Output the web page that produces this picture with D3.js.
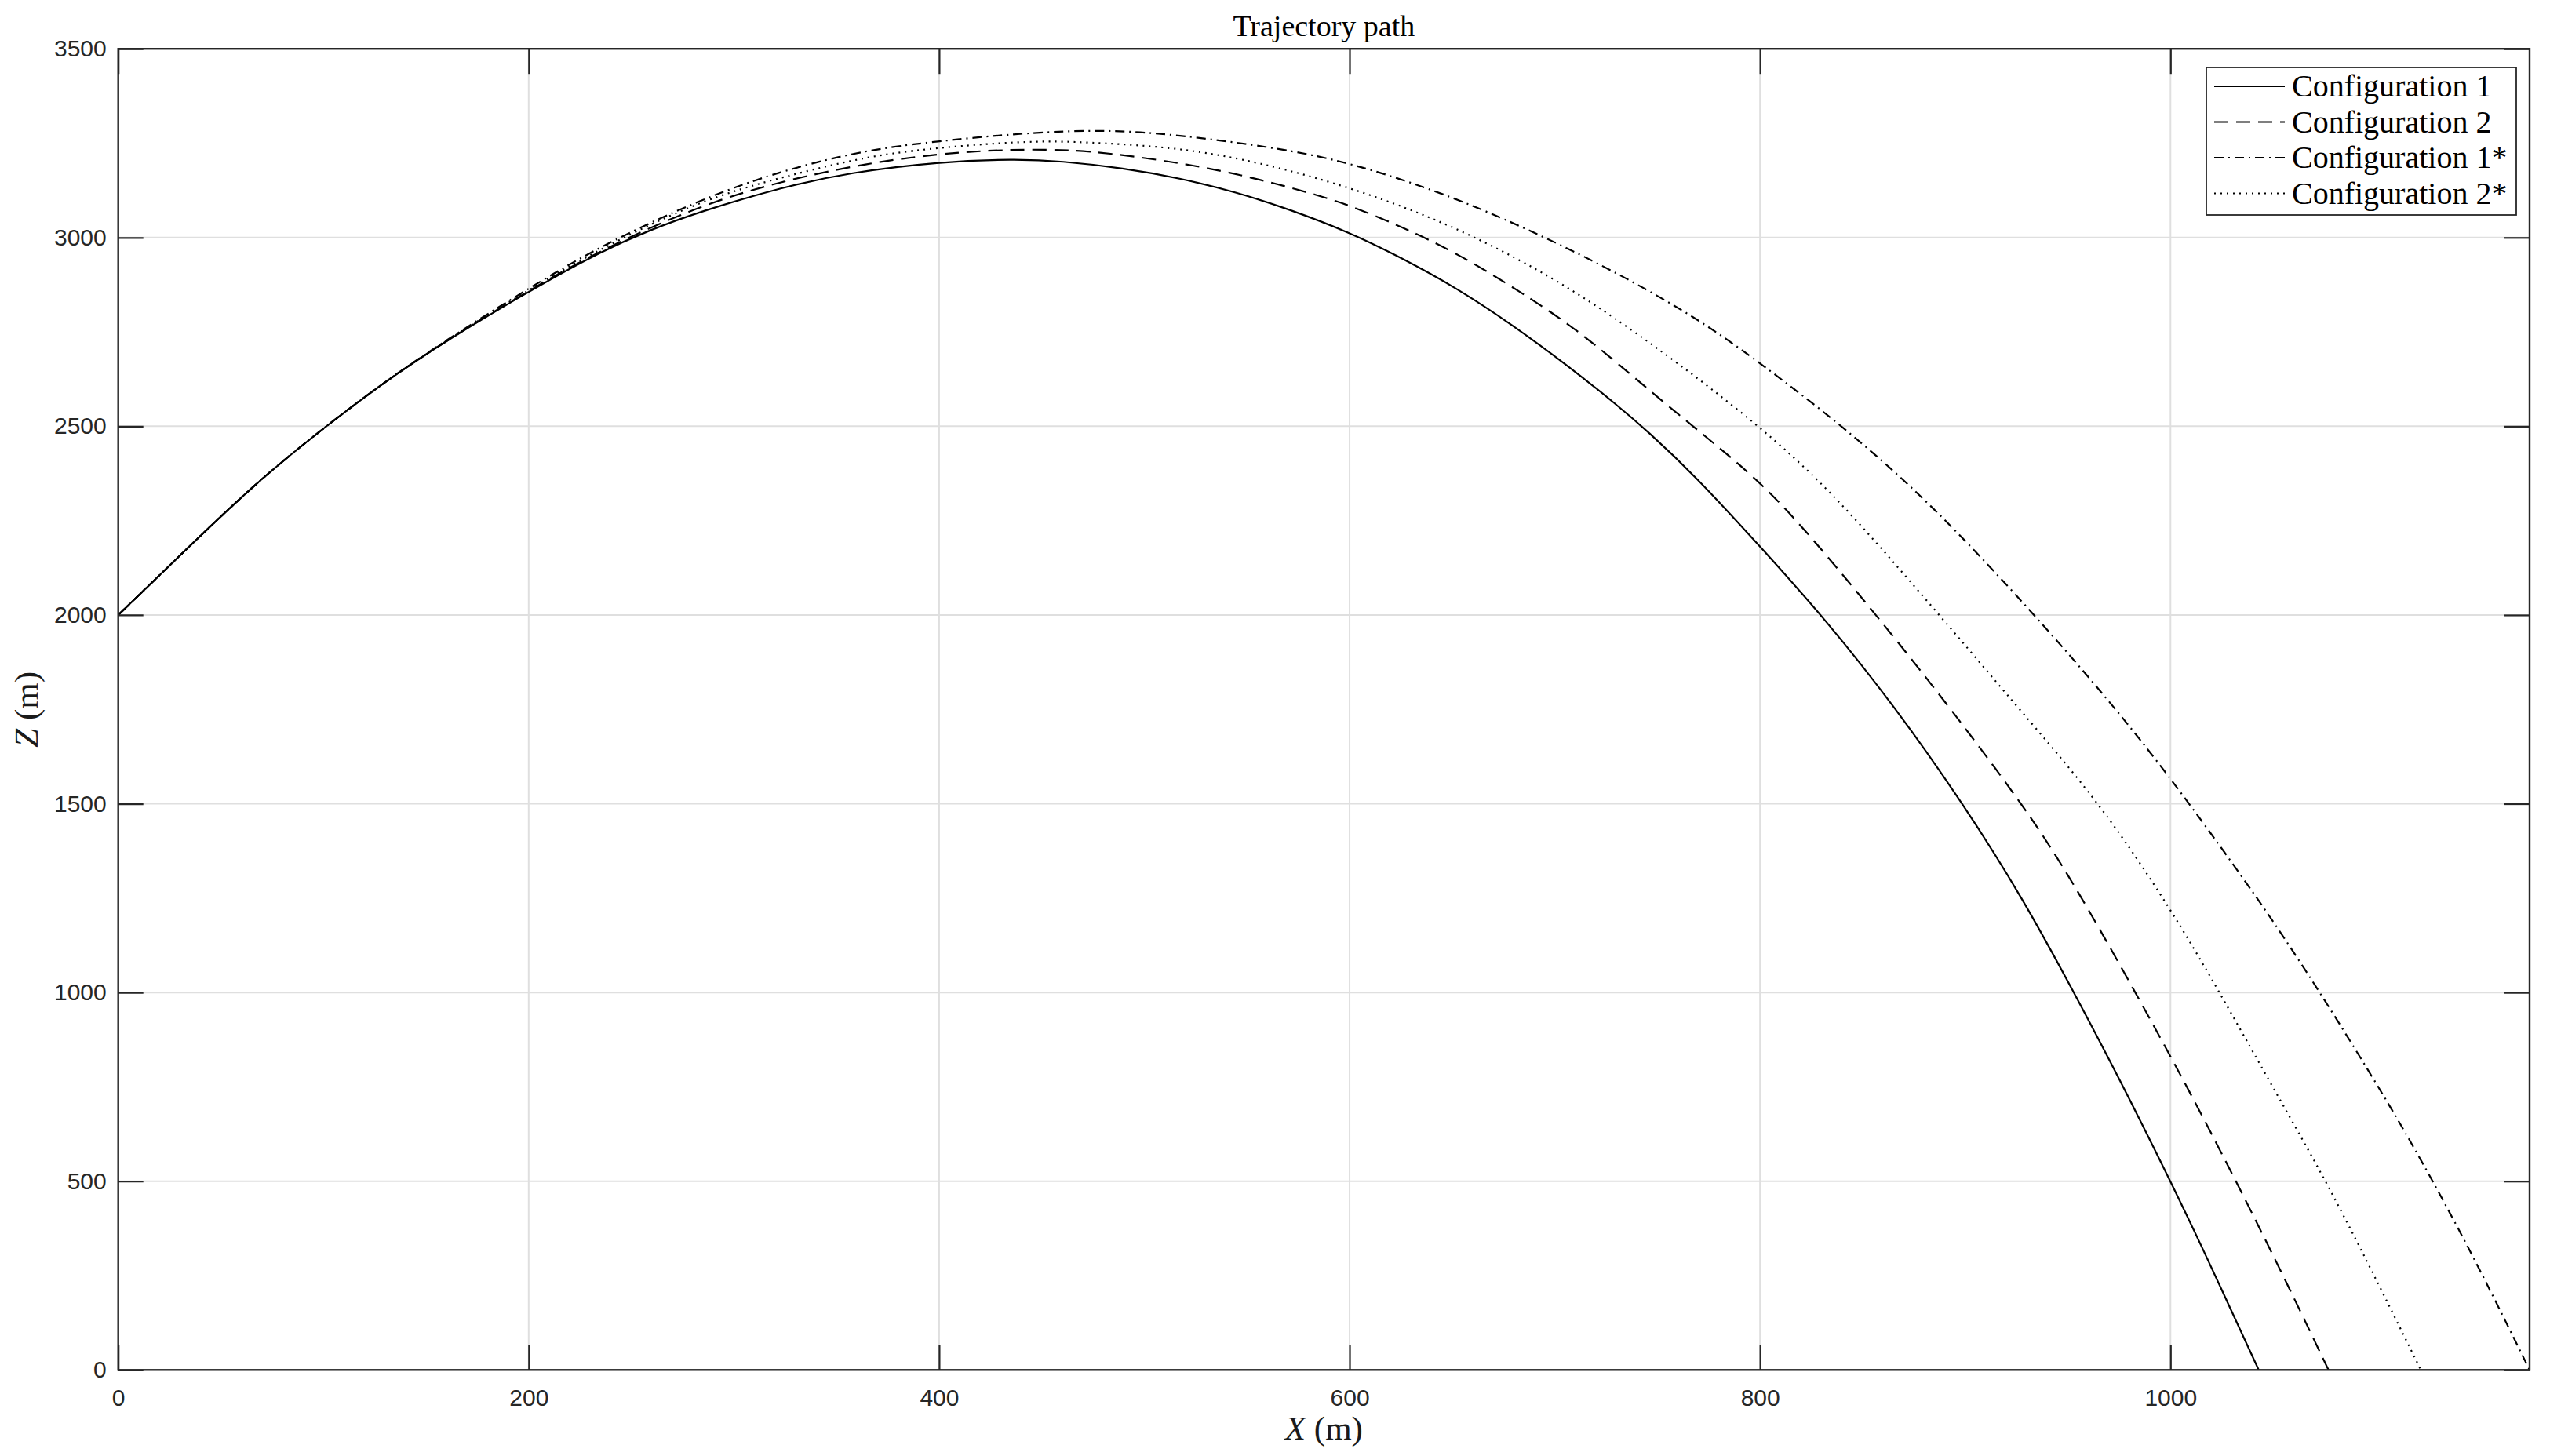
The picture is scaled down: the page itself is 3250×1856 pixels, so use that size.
<!DOCTYPE html>
<html>
<head>
<meta charset="utf-8">
<script src="https://cdn.jsdelivr.net/npm/d3@7"></script>
<style>
  html, body { margin: 0; padding: 0; background: #ffffff; }
  svg { display: block; }
</style>
</head>
<body>
<svg id="chart" width="3250" height="1856"></svg>
<script>
// ---------------- DATA ----------------
const seriesNames = ["Configuration 1", "Configuration 2", "Configuration 1*", "Configuration 2*"];

const config1X = [0,25,66,101,142,200,234,259,283,324,356,400,437,459,490,517,545,570,600,625,652,679,706,730,745,768,800,832,866,899,928,953,975,1000,1016,1043];
const config1Z = [2000,2131,2346,2500,2668,2858,2960,3020,3068,3134,3172,3201,3208,3203,3184,3158,3120,3076,3014,2947,2867,2770,2662,2558,2488,2371,2182,1988,1755,1500,1250,1000,773,500,319,0];

const config2X = [0,25,66,101,142,200,234,283,324,366,400,430,466,498,527,556,586,600,625,654,683,712,746,773,800,824,855,883,928,952,983,1008,1032,1055,1077];
const config2Z = [2000,2131,2346,2500,2668,2860,2964,3085,3151,3198,3222,3233,3234,3213,3189,3155,3110,3085,3030,2954,2857,2753,2595,2475,2354,2214,2010,1822,1500,1298,1000,752,500,250,0];

const config1sX = [0,25,66,101,142,200,234,283,324,366,400,430,478,517,564,600,650,695,732,771,800,840,883,934,970,1000,1045,1073,1106,1128,1151,1175];
const config1sZ = [2000,2131,2346,2500,2668,2866,2975,3100,3179,3234,3255,3272,3288,3272,3238,3200,3110,3002,2902,2781,2668,2502,2298,2000,1774,1570,1232,1000,710,500,265,0];

const config2sX = [0,25,66,101,142,200,234,283,324,366,400,430,454,478,517,556,600,644,683,712,746,800,836,871,900,925,966,1000,1024,1049,1076,1102,1122];
const config2sZ = [2000,2131,2346,2500,2668,2862,2968,3098,3161,3217,3238,3251,3256,3251,3238,3200,3134,3046,2942,2850,2725,2502,2320,2103,1920,1759,1500,1223,1000,757,500,221,0];

const xTicks = [0, 200, 400, 600, 800, 1000];
const yTicks = [0, 500, 1000, 1500, 2000, 2500, 3000, 3500];
const xDomain = [0, 1175];
const yDomain = [0, 3500];

const titleText = "Trajectory path";

// ---------------- LAYOUT / STYLE ----------------
const W = 3250, H = 1856;
const L = 150.7, R = 3224, T = 62.2, B = 1746.3;
const axisColor = "#262626";
const gridColor = "#dfdfdf";
const tickFont = "'Liberation Sans', Arial, Helvetica, sans-serif";
const serifFont = "'Liberation Serif', 'Times New Roman', serif";
const dashes = ["none", "18,10", "12,6,2,6", "2,6"];

const svg = d3.select("#chart");
svg.append("rect").attr("width", W).attr("height", H).attr("fill", "#ffffff");

const x = d3.scaleLinear().domain(xDomain).range([L, R]);
const y = d3.scaleLinear().domain(yDomain).range([B, T]);

// grid
const grid = svg.append("g");
grid.selectAll(".gx").data(xTicks).join("line")
  .attr("x1", d => x(d)).attr("x2", d => x(d))
  .attr("y1", T).attr("y2", B)
  .attr("stroke", gridColor).attr("stroke-width", 2);
grid.selectAll(".gy").data(yTicks).join("line")
  .attr("x1", L).attr("x2", R)
  .attr("y1", d => y(d)).attr("y2", d => y(d))
  .attr("stroke", gridColor).attr("stroke-width", 2);

// data lines
const series = [
  { name: seriesNames[0], xs: config1X, zs: config1Z },
  { name: seriesNames[1], xs: config2X, zs: config2Z },
  { name: seriesNames[2], xs: config1sX, zs: config1sZ },
  { name: seriesNames[3], xs: config2sX, zs: config2sZ }
];

svg.append("clipPath").attr("id", "clip")
  .append("rect").attr("x", L).attr("y", T).attr("width", R - L).attr("height", B - T);

const line = d3.line()
  .x(d => x(d[0])).y(d => y(d[1]))
  .curve(d3.curveBasis);

const lines = svg.append("g").attr("clip-path", "url(#clip)");
series.forEach((s, i) => {
  const pts = s.xs.map((v, k) => [v, s.zs[k]]);
  lines.append("path")
    .attr("d", line(pts))
    .attr("fill", "none")
    .attr("stroke", "#000000")
    .attr("stroke-width", 2.2)
    .attr("stroke-dasharray", dashes[i]);
});

// axes
function styleAxis(g, showText) {
  g.select(".domain").remove();
  g.selectAll(".tick line").attr("stroke", axisColor).attr("stroke-width", 2.2);
  if (showText) {
    g.selectAll(".tick text").attr("fill", axisColor)
      .style("font-family", tickFont).style("font-size", "30px");
  } else {
    g.selectAll(".tick text").remove();
  }
}
svg.append("g").attr("transform", `translate(0,${B})`)
  .call(d3.axisBottom(x).tickValues(xTicks).tickSizeInner(-32).tickSizeOuter(0).tickPadding(24).tickFormat(d3.format("d")))
  .call(g => styleAxis(g, true));
svg.append("g").attr("transform", `translate(0,${T})`)
  .call(d3.axisTop(x).tickValues(xTicks).tickSizeInner(-32).tickSizeOuter(0))
  .call(g => styleAxis(g, false));
svg.append("g").attr("transform", `translate(${L},0)`)
  .call(d3.axisLeft(y).tickValues(yTicks).tickSizeInner(-32).tickSizeOuter(0).tickPadding(15).tickFormat(d3.format("d")))
  .call(g => styleAxis(g, true));
svg.append("g").attr("transform", `translate(${R},0)`)
  .call(d3.axisRight(y).tickValues(yTicks).tickSizeInner(-32).tickSizeOuter(0))
  .call(g => styleAxis(g, false));

// box
svg.append("rect").attr("x", L).attr("y", T).attr("width", R - L).attr("height", B - T)
  .attr("fill", "none").attr("stroke", axisColor).attr("stroke-width", 2.4);

// title
svg.append("text").attr("x", (L + R) / 2).attr("y", 46)
  .attr("text-anchor", "middle")
  .style("font-family", serifFont).style("font-size", "38px").attr("fill", "#000")
  .text(titleText);

// x label
const xl = svg.append("text").attr("x", (L + R) / 2).attr("y", 1835)
  .attr("text-anchor", "middle")
  .style("font-family", serifFont).style("font-size", "43px").attr("fill", "#1a1a1a");
xl.append("tspan").style("font-style", "italic").text("X");
xl.append("tspan").text(" (m)");

// y label
const yl = svg.append("text")
  .attr("transform", `translate(48,${(T + B) / 2}) rotate(-90)`)
  .attr("text-anchor", "middle")
  .style("font-family", serifFont).style("font-size", "43px").attr("fill", "#1a1a1a");
yl.append("tspan").style("font-style", "italic").text("Z");
yl.append("tspan").text(" (m)");

// legend
const lgX = 2812, lgY = 86, lgW = 395, lgH = 188;
const lg = svg.append("g");
lg.append("rect").attr("x", lgX).attr("y", lgY).attr("width", lgW).attr("height", lgH)
  .attr("fill", "#ffffff").attr("stroke", axisColor).attr("stroke-width", 1.8);
const rowY = i => 110 + i * 45.5;
series.forEach((s, i) => {
  lg.append("line")
    .attr("x1", 2822).attr("x2", 2912)
    .attr("y1", rowY(i)).attr("y2", rowY(i))
    .attr("stroke", "#000").attr("stroke-width", 2)
    .attr("stroke-dasharray", dashes[i]);
  lg.append("text")
    .attr("x", 2921).attr("y", rowY(i) + 13)
    .style("font-family", serifFont).style("font-size", "40px").attr("fill", "#000")
    .text(s.name);
});
</script>
</body>
</html>
